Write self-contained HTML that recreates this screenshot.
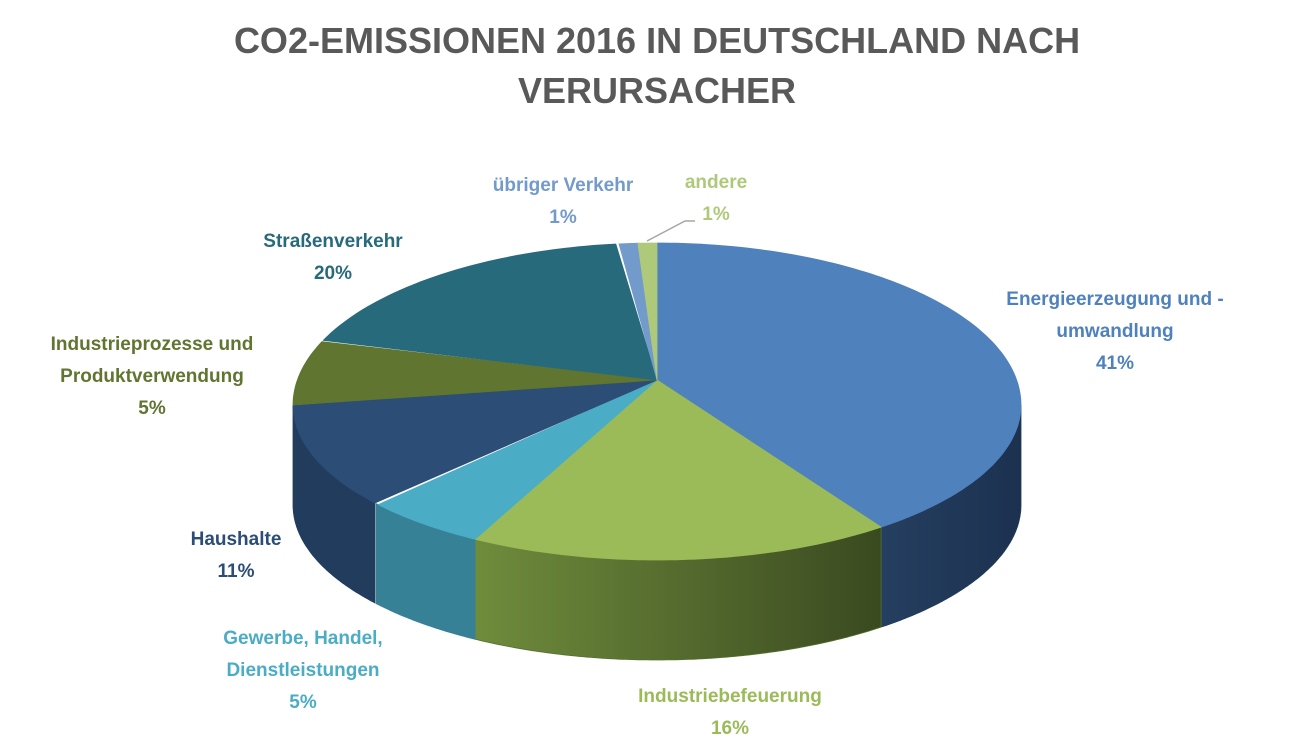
<!DOCTYPE html>
<html><head><meta charset="utf-8"><style>
body{margin:0;background:#fff;width:1305px;height:751px;overflow:hidden;}
svg text{font-family:"Liberation Sans",sans-serif;font-weight:bold;}
</style></head><body>
<svg id="s" width="1305" height="751" viewBox="0 0 1305 751" xmlns="http://www.w3.org/2000/svg">
<defs>
<linearGradient id="gS" x1="0" x2="1" y1="0" y2="0"><stop offset="0" stop-color="#6f8c3c"/><stop offset="1" stop-color="#3a4a20"/></linearGradient>
<linearGradient id="eS" x1="0" x2="1" y1="0" y2="0"><stop offset="0" stop-color="#253f60"/><stop offset="1" stop-color="#1c3150"/></linearGradient>
</defs>
<g id="pie"></g>
<text x="657" y="53" font-size="36" fill="#595959" text-anchor="middle">CO2-EMISSIONEN 2016 IN DEUTSCHLAND NACH</text>
<text x="657" y="103" font-size="36" fill="#595959" text-anchor="middle">VERURSACHER</text>
<g font-size="19" text-anchor="middle">
<text x="1115" y="305" fill="#4f81bd">Energieerzeugung und -</text>
<text x="1115" y="337" fill="#4f81bd">umwandlung</text>
<text x="1115" y="369" fill="#4f81bd">41%</text>
<text x="730" y="702" fill="#9bbb59">Industriebefeuerung</text>
<text x="730" y="734" fill="#9bbb59">16%</text>
<text x="303" y="644" fill="#4bacc6">Gewerbe, Handel,</text>
<text x="303" y="676" fill="#4bacc6">Dienstleistungen</text>
<text x="303" y="708" fill="#4bacc6">5%</text>
<text x="236" y="545" fill="#2c4d75">Haushalte</text>
<text x="236" y="577" fill="#2c4d75">11%</text>
<text x="152" y="350" fill="#5f7530">Industrieprozesse und</text>
<text x="152" y="382" fill="#5f7530">Produktverwendung</text>
<text x="152" y="414" fill="#5f7530">5%</text>
<text x="333" y="247" fill="#276a7c">Straßenverkehr</text>
<text x="333" y="279" fill="#276a7c">20%</text>
<text x="563" y="191" fill="#729aca">übriger Verkehr</text>
<text x="563" y="223" fill="#729aca">1%</text>
<text x="716" y="188" fill="#afc97a">andere</text>
<text x="716" y="220" fill="#afc97a">1%</text>
</g>
<polyline points="647,241 685,221 695,221" fill="none" stroke="#a6a6a6" stroke-width="1.5"/>
</svg>
<script>
var cx=657,cy=405,rx=364,ryT=162,ryB=155,D=100,ax=657,ay=380;
function P(t,d){var r=t*Math.PI/180,c=Math.cos(r);return [cx+rx*Math.sin(r),cy-(c>0?ryT:ryB)*c+(d||0)];}
var sl=[[0,142,"#4f81bd","url(#eS)","#223a5a"],[142,210,"#9bbb59","url(#gS)","#55702e"],[210,230.8,"#4bacc6","#378197","#378197"],[230.8,270,"#2c4d75","#223c5e","#223c5e"],[270,293.5,"#5f7530","#4a5c25","#4a5c25"],[293.5,354,"#276a7c","#1e5260","#1e5260"],[354,357,"#729aca","#5a7ca6","#5a7ca6"],[357,360,"#afc97a","#8aa35a","#8aa35a"]];
var g=document.getElementById("pie"),sides="",tops="";
sl.forEach(function(s){var a0=s[0],a1=s[1];
 var p="M"+ax+","+ay;for(var t=a0;t<=a1+0.001;t+=Math.min(1,(a1-a0)/2)){var q=P(Math.min(t,a1));p+=" L"+q[0].toFixed(1)+","+q[1].toFixed(1);}
 tops+='<path d="'+p+' Z" fill="'+s[2]+'" stroke="'+s[2]+'" stroke-width="0.8" stroke-linejoin="round"/>';
 var b0=Math.max(a0,90),b1=Math.min(a1,270);
 if(b1>b0){var u="",l="";for(var t=b0;t<=b1+0.001;t+=0.5){var tt=Math.min(t,b1),q=P(tt),w=P(tt,D);u+=(u?" L":"M")+q[0].toFixed(1)+","+q[1].toFixed(1);l=" L"+w[0].toFixed(1)+","+w[1].toFixed(1)+l;}
 sides+='<path d="'+u+l+' Z" fill="'+s[3]+'" stroke="'+s[4]+'" stroke-width="0.8"/>';}
});
g.innerHTML=sides+tops;
</script>
</body></html>
